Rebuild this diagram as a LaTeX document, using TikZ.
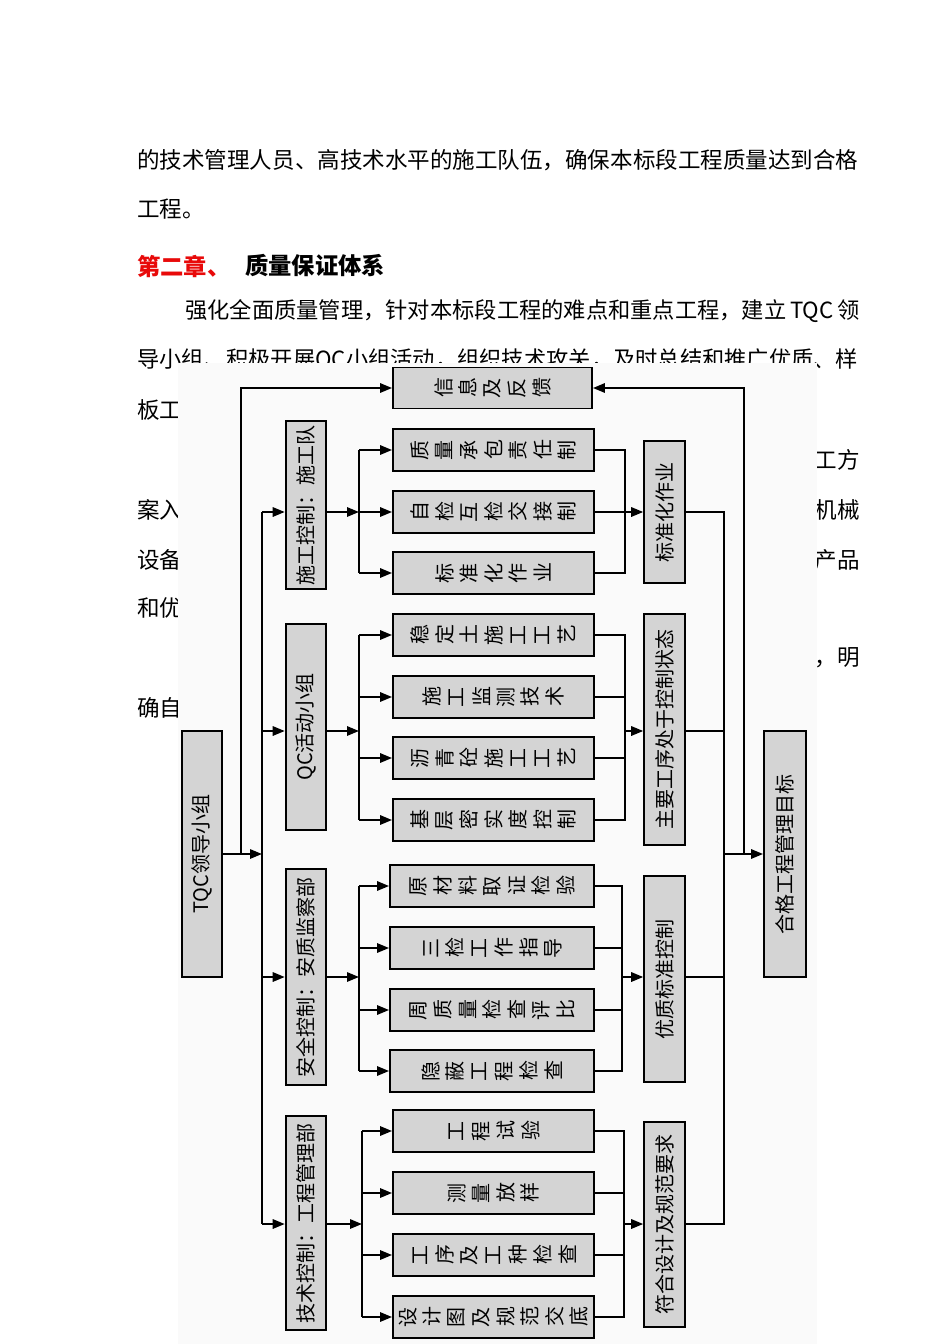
\documentclass[tikz,border=0pt]{standalone}
\usepackage{graphicx}
\usepackage{fontspec}
\setmainfont{Noto Sans CJK SC}
\usetikzlibrary{arrows.meta}
\definecolor{boxgray}{RGB}{212,212,212}
\definecolor{headred}{RGB}{232,10,10}
\definecolor{diagbg}{RGB}{250,250,250}
\newcommand\mybody{\fontsize{16.9pt}{17pt}\selectfont}
\newcommand\mybodyn{\fontsize{16.7pt}{17pt}\selectfont}
\newcommand\myhead{\fontsize{17.5pt}{18pt}\selectfont\bfseries}
\newcommand\mydiag{\fontsize{15pt}{15pt}\selectfont}
\newcommand\myvert{\fontsize{15pt}{15pt}\selectfont}
\newcommand\vtxt[1]{\rotatebox{90}{\myvert #1}}
\newcommand\hz[1]{\hzaux#1\relax}
\def\hzaux#1{\ifx\relax#1\else\makebox[18.4pt]{\rotatebox[origin=c]{90}{#1}}\expandafter\hzaux\fi}
\begin{document}
\begin{tikzpicture}[x=0.75pt,y=-0.75pt,
  box/.style={draw, fill=boxgray, line width=1.4pt, inner sep=0pt, font=\mydiag},
  hbox/.style={box, minimum width=150.75pt, minimum height=31.5pt},
  vbox/.style={box, minimum width=30.5pt},
  ln/.style={line width=1.5pt},
  arr/.style={line width=1.5pt, -{Triangle[length=9pt,width=7pt]}},
  ptext/.style={anchor=west, inner sep=0pt, font=\mybody},
  ptexte/.style={anchor=east, inner sep=0pt, font=\mybody}]
\useasboundingbox (0,0) rectangle (950,1344);
\fill[white] (0,0) rectangle (950,1344);
% page text
\node[ptext] (t1) at (137,160) {的技术管理人员、高技术水平的施工队伍，确保本标段工程质量达到合格};
\node[ptext] (t2) at (137,209) {工程。};
\node[ptext, font=\myhead, text=headred] (h1) at (137,266) {第二章、};
\node[ptext, font=\myhead] (h2) at (245,266) {质量保证体系};
\node[ptext, font=\mybodyn] (t3) at (185,311) {强化全面质量管理，针对本标段工程的难点和重点工程，建立\,TQC\,领};
\node[ptext, font=\mybodyn] (t4) at (137,360) {导小组、积极开展QC小组活动，组织技术攻关，及时总结和推广优质、样};
\node[ptext] (l1) at (137,410) {板工};
\node[ptexte] (r1) at (860,460) {工方};
\node[ptext] (l2) at (137,510) {案入};
\node[ptexte] (r2) at (860,510) {机械};
\node[ptext] (l3) at (137,560) {设备};
\node[ptexte] (r3) at (860,560) {产品};
\node[ptext] (l4) at (137,608) {和优};
\node[ptexte] (r4) at (860,658) {，明};
\node[ptext] (l5) at (137,708) {确自};
% diagram background
\fill[diagbg] (178,363) rectangle (817,1344);
% boxes
\node[box, minimum width=149.25pt, minimum height=30.75pt] (info) at (492.5,388) {\hz{信息及反馈}};
\node[vbox, minimum height=184.5pt] (tqc) at (202,854) {\vtxt{TQC领导小组}};
\node[vbox, minimum height=126pt] (c2a) at (306,505) {\vtxt{施工控制：施工队}};
\node[vbox, minimum height=154.5pt] (c2b) at (306,727) {\vtxt{QC活动小组}};
\node[vbox, minimum height=162pt] (c2c) at (306,977) {\vtxt{安全控制：安质监察部}};
\node[vbox, minimum height=160.5pt] (c2d) at (306,1223) {\vtxt{技术控制：工程管理部}};
\node[hbox] (g1a) at (493.5,450) {\hz{质量承包责任制}};
\node[hbox] (g1b) at (493.5,512) {\hz{自检互检交接制}};
\node[hbox] (g1c) at (493.5,573) {\hz{标准化作业}};
\node[hbox] (g2a) at (493.5,635) {\hz{稳定土施工工艺}};
\node[hbox] (g2b) at (493.5,697) {\hz{施工监测技术}};
\node[hbox] (g2c) at (493.5,758) {\hz{沥青砼施工工艺}};
\node[hbox] (g2d) at (493.5,820) {\hz{基层密实度控制}};
\node[hbox, minimum width=153pt] (g3a) at (492,886) {\hz{原材料取证检验}};
\node[hbox, minimum width=153pt] (g3b) at (492,948) {\hz{三检工作指导}};
\node[hbox, minimum width=153pt] (g3c) at (492,1010) {\hz{周质量检查评比}};
\node[hbox, minimum width=153pt] (g3d) at (492,1071) {\hz{隐蔽工程检查}};
\node[hbox] (g4a) at (493.5,1131) {\hz{工程试验}};
\node[hbox] (g4b) at (493.5,1193) {\hz{测量放样}};
\node[hbox] (g4c) at (493.5,1255) {\hz{工序及工种检查}};
\node[hbox] (g4d) at (493.5,1317) {\hz{设计图及规范交底}};
\node[vbox, minimum height=106.5pt] (c4a) at (664.5,512) {\vtxt{标准化作业}};
\node[vbox, minimum height=173.25pt] (c4b) at (664.5,729.5) {\vtxt{主要工序处于控制状态}};
\node[vbox, minimum height=154.5pt] (c4c) at (664.5,979) {\vtxt{优质标准控制}};
\node[vbox, minimum height=153.75pt] (c4d) at (664.5,1224.5) {\vtxt{符合设计及规范要求}};
\node[vbox, minimum width=31.5pt, minimum height=184.5pt] (final) at (785,854) {\vtxt{合格工程管理目标}};
% junctions
\coordinate (F1) at (241,854);
\coordinate (J1) at (262,854);
\coordinate (K1) at (724,854);
\coordinate (R1) at (744,854);
\coordinate (B2a) at (262,512);
\coordinate (B2b) at (262,731);
\coordinate (B2c) at (262,977);
\coordinate (B2d) at (262,1224);
\coordinate (B3a) at (359,512);
\coordinate (B3b) at (359,731);
\coordinate (B3c) at (359,977);
\coordinate (B3d) at (362,1224);
\coordinate (C1) at (625,512);
\coordinate (C2) at (625,731);
\coordinate (C3) at (622,977);
\coordinate (C4) at (624,1224);
\coordinate (D1) at (724,512);
\coordinate (D4) at (724,1224);
% connectors
\draw[arr] (tqc.east) -- (J1);
\draw[arr] (F1) |- (info.west);
\draw[arr] (R1) |- (info.east);
\draw[arr] (K1) -- (final.west);
\draw[ln] (B2a) -- (B2d);
\foreach \n in {a,b,c,d} {
  \draw[arr] (B2\n) -- (B2\n -| c2\n.west);
  \draw[arr] (B2\n -| c2\n.east) -- (B3\n);
}
% group 1
\draw[ln] (g1a.west -| B3a) -- (g1c.west -| B3a);
\foreach \m in {a,b,c} \draw[arr] (g1\m.west -| B3a) -- (g1\m.west);
\draw[ln] (g1a.east) -| (C1) |- (g1c.east);
\draw[ln] (g1b.east) -- (C1);
\draw[arr] (C1) -- (C1 -| c4a.west);
% group 2
\draw[ln] (g2a.west -| B3b) -- (g2d.west -| B3b);
\foreach \m in {a,b,c,d} \draw[arr] (g2\m.west -| B3b) -- (g2\m.west);
\draw[ln] (g2a.east) -| (C2) |- (g2d.east);
\foreach \m in {b,c} \draw[ln] (g2\m.east) -- (g2\m.east -| C2);
\draw[arr] (C2) -- (C2 -| c4b.west);
% group 3
\draw[ln] (g3a.west -| B3c) -- (g3d.west -| B3c);
\foreach \m in {a,b,c,d} \draw[arr] (g3\m.west -| B3c) -- (g3\m.west);
\draw[ln] (g3a.east) -| (C3) |- (g3d.east);
\foreach \m in {b,c} \draw[ln] (g3\m.east) -- (g3\m.east -| C3);
\draw[arr] (C3) -- (C3 -| c4c.west);
% group 4
\draw[ln] (g4a.west -| B3d) -- (g4d.west -| B3d);
\foreach \m in {a,b,c,d} \draw[arr] (g4\m.west -| B3d) -- (g4\m.west);
\draw[ln] (g4a.east) -| (C4) |- (g4d.east);
\foreach \m in {b,c} \draw[ln] (g4\m.east) -- (g4\m.east -| C4);
\draw[arr] (C4) -- (C4 -| c4d.west);
% outputs to target bus
\draw[ln] (D1 -| c4a.east) -- (D1) -- (D4) -- (D4 -| c4d.east);
\draw[ln] (C2 -| c4b.east) -- (C2 -| D1);
\draw[ln] (C3 -| c4c.east) -- (C3 -| D1);
\end{tikzpicture}
\end{document}
